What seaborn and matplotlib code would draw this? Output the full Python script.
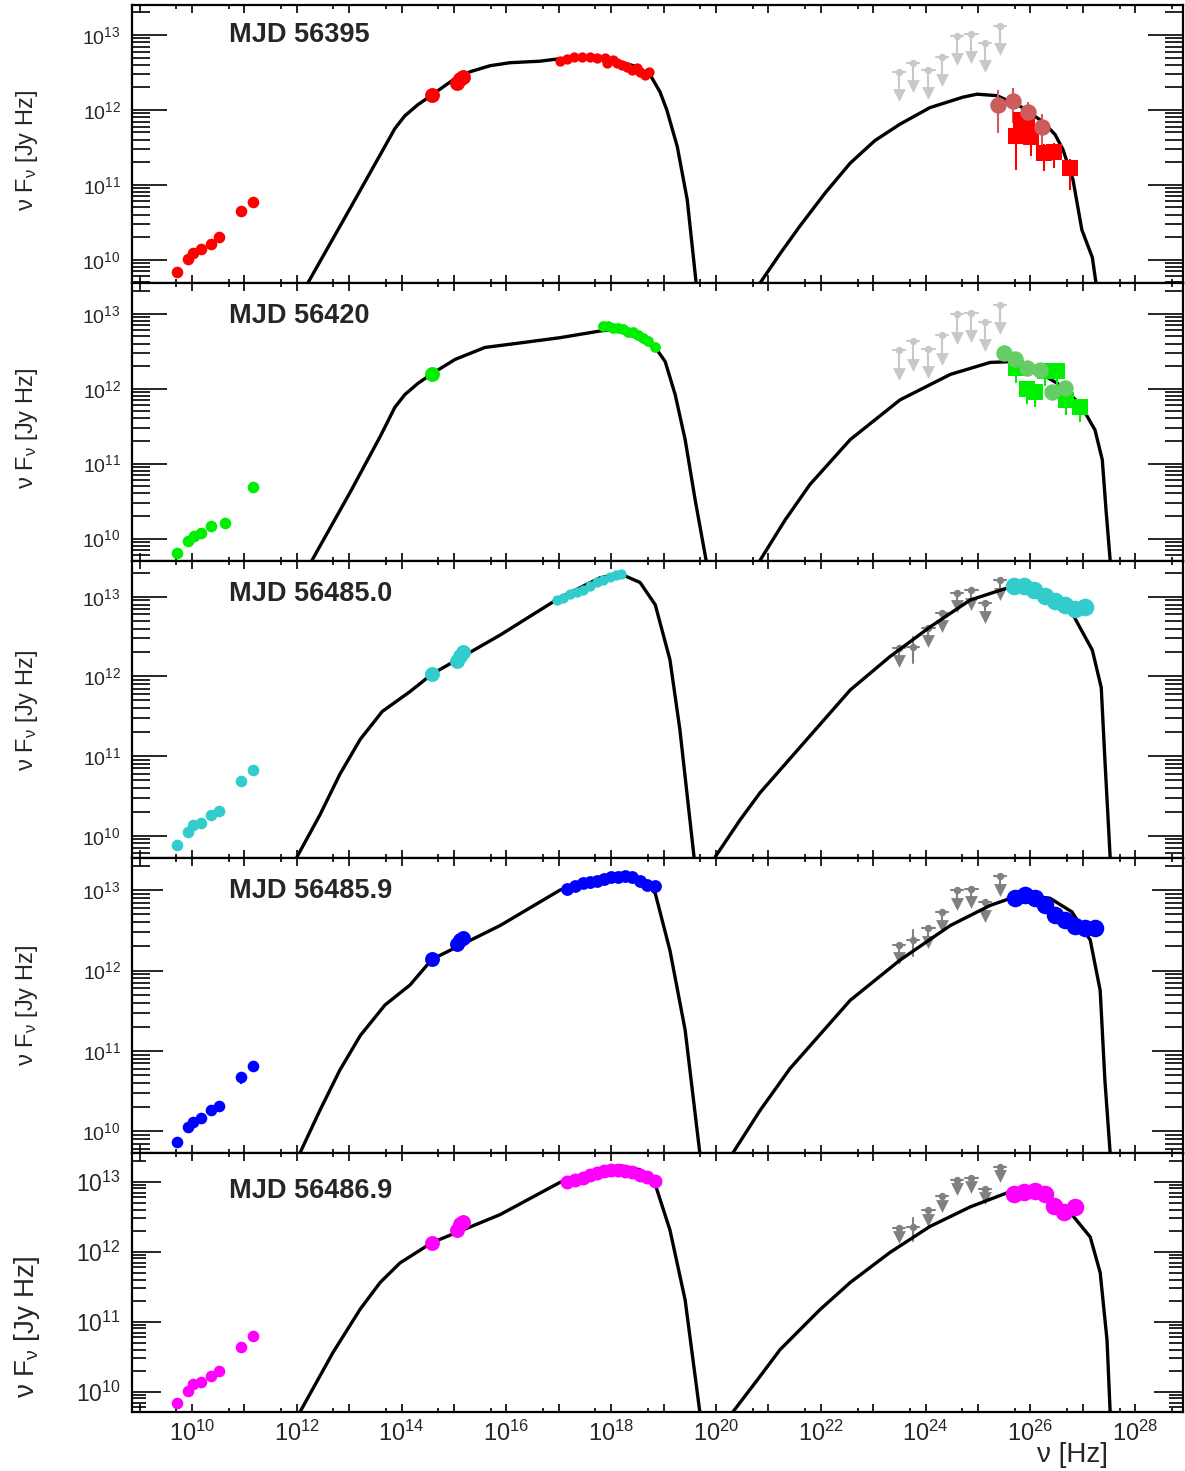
import numpy as np
import matplotlib
matplotlib.use("Agg")
import matplotlib.pyplot as plt
import seaborn as sns
from matplotlib.ticker import FixedLocator, LogLocator, FuncFormatter, NullFormatter

# ---------------- data (log10 values) ----------------
titles = ["MJD 56395", "MJD 56420", "MJD 56485.0", "MJD 56485.9", "MJD 56486.9"]
colors = ["#ff0000", "#00ee00", "#33cccc", "#0000ff", "#ff00ff"]

radio_nu = [9.71, 9.92, 10.02, 10.17, 10.36, 10.52, 10.94, 11.16]
radio_f1 = [9.84, 10.01, 10.09, 10.15, 10.21, 10.31, 10.65, 10.77]
radio_nu2 = [9.71, 9.92, 10.03, 10.18, 10.36, 10.63, 11.16]
radio_f2 = [9.81, 9.97, 10.03, 10.08, 10.17, 10.21, 10.69]
radio_f3 = [9.88, 10.05, 10.13, 10.16, 10.26, 10.31, 10.69, 10.82]
radio_f4 = [9.87, 10.05, 10.12, 10.17, 10.26, 10.31, 10.67, 10.81]
radio_f5 = [9.84, 10.01, 10.11, 10.14, 10.23, 10.30, 10.64, 10.79]

opt_nu = [14.58, 15.06, 15.11, 15.17]
opt_nu2 = [14.58]
opt_f1 = [12.20, 12.36, 12.41, 12.44]
opt_f2 = [12.20]
opt_f3 = [12.03, 12.20, 12.26, 12.31]
opt_f4 = [12.14, 12.33, 12.38, 12.41]
opt_f5 = [12.13, 12.31, 12.39, 12.43]

xr_nu1 = [17.02, 17.16, 17.29, 17.44, 17.60, 17.73, 17.88, 17.92, 18.03, 18.11, 18.21, 18.30, 18.40, 18.49, 18.55, 18.65, 18.72]
xr_f1 = [12.65, 12.68, 12.71, 12.71, 12.71, 12.69, 12.69, 12.63, 12.67, 12.63, 12.60, 12.57, 12.53, 12.56, 12.51, 12.47, 12.51]
xr_nu2 = [17.84, 17.94, 18.03, 18.13, 18.23, 18.32, 18.42, 18.51, 18.61, 18.70, 18.84]
xr_f2 = [12.83, 12.84, 12.81, 12.81, 12.79, 12.76, 12.75, 12.71, 12.68, 12.64, 12.55]
xr_nu3 = [16.97, 17.08, 17.21, 17.35, 17.46, 17.60, 17.73, 17.84, 17.98, 18.09, 18.19]
xr_f3 = [12.96, 12.99, 13.03, 13.06, 13.09, 13.13, 13.18, 13.21, 13.25, 13.28, 13.29]
xr_nu45 = [17.16, 17.31, 17.46, 17.60, 17.73, 17.86, 18.00, 18.13, 18.27, 18.40, 18.55, 18.69, 18.84]
xr_f4 = [13.01, 13.05, 13.09, 13.10, 13.12, 13.14, 13.16, 13.16, 13.17, 13.16, 13.12, 13.07, 13.05]
xr_f5 = [12.99, 13.03, 13.06, 13.10, 13.13, 13.16, 13.17, 13.17, 13.16, 13.14, 13.10, 13.07, 13.01]

ul_nu = [23.49, 23.76, 24.05, 24.31, 24.60, 24.87, 25.13, 25.42]
ul_f12 = [12.51, 12.63, 12.53, 12.71, 12.99, 13.01, 12.89, 13.12]
ul_f3 = [12.36, 12.37, 12.61, 12.80, 13.05, 13.08, 12.92, 13.21]
ul_f4 = [12.32, 12.38, 12.53, 12.73, 13.00, 13.02, 12.85, 13.17]
ul_f5 = [12.34, 12.36, 12.59, 12.79, 13.03, 13.06, 12.90, 13.21]

lat_nu1 = [25.38, 25.67, 25.95, 26.22]
lat_f1 = [12.07, 12.12, 11.97, 11.77]
lat_lo1 = [0.38, 0.30, 0.26, 0.36]
lat_hi1 = [0.20, 0.17, 0.14, 0.18]
vhe_nu1 = [25.73, 25.82, 25.94, 26.01, 26.26, 26.45, 26.76]
vhe_f1 = [11.65, 11.87, 11.83, 11.64, 11.43, 11.44, 11.23]
vhe_lo1 = [0.45, 0.15, 0.12, 0.26, 0.25, 0.22, 0.30]
vhe_hi1 = [0.15, 0.10, 0.08, 0.12, 0.12, 0.12, 0.12]

lat_nu2 = [25.50, 25.71, 25.94, 26.18, 26.41, 26.66]
lat_f2 = [12.48, 12.39, 12.28, 12.25, 11.96, 12.01]
vhe_nu2 = [25.73, 25.94, 26.09, 26.28, 26.51, 26.68, 26.95]
vhe_f2 = [12.28, 11.99, 11.95, 12.23, 12.24, 11.85, 11.75]

vhe_nu3 = [25.69, 25.88, 26.07, 26.28, 26.47, 26.66, 26.85, 27.04]
vhe_f3 = [13.13, 13.13, 13.09, 13.01, 12.95, 12.90, 12.85, 12.87]
vhe_nu4 = [25.71, 25.90, 26.09, 26.28, 26.47, 26.66, 26.85, 27.04, 27.23]
vhe_f4 = [12.90, 12.94, 12.90, 12.81, 12.69, 12.63, 12.56, 12.53, 12.53]
vhe_nu5 = [25.69, 25.88, 26.09, 26.28, 26.45, 26.64, 26.85]
vhe_f5 = [12.83, 12.86, 12.87, 12.83, 12.66, 12.57, 12.64]

# model curves (log nu, log nuFnu)
syn_nu1 = [12.21, 13.02, 13.59, 13.87, 14.06, 14.31, 14.58, 14.98, 15.31, 15.69, 16.07, 16.64, 16.98, 17.54, 17.98, 18.42, 18.74, 18.93, 19.06, 19.26, 19.45, 19.62]
syn_f1 = [9.69, 10.69, 11.40, 11.75, 11.92, 12.07, 12.20, 12.40, 12.51, 12.59, 12.63, 12.65, 12.68, 12.71, 12.68, 12.59, 12.47, 12.24, 12.00, 11.51, 10.80, 9.69]
ic_nu1 = [20.84, 21.22, 21.60, 22.08, 22.56, 23.03, 23.51, 24.08, 24.71, 24.98, 25.36, 25.80, 26.24, 26.47, 26.62, 26.81, 26.98, 27.18, 27.25]
ic_f1 = [9.69, 10.08, 10.45, 10.89, 11.29, 11.59, 11.81, 12.03, 12.17, 12.21, 12.19, 12.05, 11.84, 11.67, 11.47, 11.07, 10.40, 10.03, 9.69]

syn_nu2 = [12.29, 13.02, 13.59, 13.87, 14.06, 14.31, 14.58, 15.02, 15.59, 16.26, 17.02, 17.79, 18.07, 18.45, 18.84, 19.03, 19.22, 19.41, 19.60, 19.81]
syn_f2 = [9.71, 10.62, 11.36, 11.75, 11.92, 12.07, 12.20, 12.39, 12.55, 12.61, 12.68, 12.77, 12.79, 12.69, 12.55, 12.36, 11.92, 11.32, 10.52, 9.71]
ic_nu2 = [20.84, 21.32, 21.79, 22.56, 23.51, 24.47, 25.23, 25.61, 25.99, 26.56, 26.95, 27.23, 27.37, 27.44, 27.52]
ic_f2 = [9.71, 10.25, 10.72, 11.32, 11.85, 12.19, 12.35, 12.36, 12.29, 12.05, 11.79, 11.45, 11.05, 10.39, 9.71]

syn_nu3 = [12.00, 12.44, 12.82, 13.21, 13.63, 14.16, 14.58, 15.88, 17.02, 17.79, 18.17, 18.55, 18.84, 19.12, 19.31, 19.58]
syn_f3 = [9.73, 10.26, 10.77, 11.21, 11.56, 11.81, 12.03, 12.52, 12.99, 13.24, 13.29, 13.18, 12.90, 12.21, 11.33, 9.73]
ic_nu3 = [19.98, 20.46, 20.84, 21.60, 22.56, 23.32, 24.08, 24.85, 25.55, 26.18, 26.79, 27.18, 27.35, 27.42, 27.52]
ic_f3 = [9.73, 10.20, 10.54, 11.11, 11.83, 12.25, 12.62, 12.96, 13.11, 13.06, 12.80, 12.33, 11.86, 10.95, 9.73]

syn_nu4 = [12.06, 12.44, 12.82, 13.21, 13.68, 14.16, 14.58, 15.88, 17.02, 17.79, 18.17, 18.55, 18.84, 19.12, 19.41, 19.69]
syn_f4 = [9.73, 10.26, 10.76, 11.19, 11.57, 11.82, 12.14, 12.56, 13.00, 13.16, 13.21, 13.15, 12.96, 12.25, 11.26, 9.73]
ic_nu4 = [20.32, 20.84, 21.41, 22.56, 23.51, 24.47, 25.23, 25.80, 26.37, 26.79, 27.14, 27.33, 27.42, 27.52]
ic_f4 = [9.73, 10.26, 10.78, 11.63, 12.13, 12.56, 12.81, 12.94, 12.90, 12.73, 12.38, 11.75, 10.63, 9.73]

syn_nu5 = [12.06, 12.69, 13.21, 13.59, 13.97, 14.58, 15.88, 17.02, 17.79, 18.17, 18.55, 18.84, 19.12, 19.41, 19.69]
syn_f5 = [9.71, 10.56, 11.18, 11.56, 11.84, 12.13, 12.53, 12.99, 13.17, 13.23, 13.17, 12.96, 12.31, 11.31, 9.71]
ic_nu5 = [20.32, 20.84, 21.22, 21.98, 22.56, 23.32, 24.08, 24.85, 25.55, 26.18, 26.79, 27.14, 27.33, 27.46, 27.52]
ic_f5 = [9.71, 10.22, 10.60, 11.17, 11.56, 11.99, 12.36, 12.64, 12.84, 12.86, 12.53, 12.21, 11.70, 10.74, 9.71]

# ---------------- styling / layout ----------------
sns.set_theme(style="ticks")
plt.rcParams['font.family'] = ['Liberation Sans', 'DejaVu Sans']
plt.rcParams['mathtext.fontset'] = 'custom'
plt.rcParams['mathtext.rm'] = 'Liberation Sans'
plt.rcParams['mathtext.it'] = 'Liberation Sans:italic'
plt.rcParams['mathtext.bf'] = 'Liberation Sans:bold'

W, H = 1185, 1471
fig = plt.figure(figsize=(W / 100, H / 100), dpi=100)
fig.patch.set_facecolor("white")

tops = [5, 283, 561, 858, 1153]
bots = [283, 561, 858, 1153, 1412]
ylims = [(9.69, 13.40), (9.70, 13.41), (9.72, 13.45), (9.73, 13.40), (9.71, 13.41)]
xlim = (8.855, 28.91)
left_px, right_px = 132, 1183
ylab_centers = [150, 428, 710, 1005, 1327]
title_centers = [35, 316, 594, 891, 1191]
ul_drop = [0.37, 0.37, 0.23, 0.23, 0.19]
ytick_fs = [14, 14, 14, 14, 16.5]
ylab_fs = [17, 17, 17, 17, 20]
ymaj_len = [25, 25, 25, 22, 21]
ymin_len = [13, 13, 13, 13, 10]
xr_size = [55, 60, 55, 85, 100]

panels = [
    dict(radio=(radio_nu, radio_f1), opt=(opt_nu, opt_f1), xr=(xr_nu1, xr_f1), ul=(ul_nu, ul_f12),
         syn=(syn_nu1, syn_f1), ic=(ic_nu1, ic_f1), ulcol="#c8c8c8"),
    dict(radio=(radio_nu2, radio_f2), opt=(opt_nu2, opt_f2), xr=(xr_nu2, xr_f2), ul=(ul_nu, ul_f12),
         syn=(syn_nu2, syn_f2), ic=(ic_nu2, ic_f2), ulcol="#c8c8c8"),
    dict(radio=(radio_nu, radio_f3), opt=(opt_nu, opt_f3), xr=(xr_nu3, xr_f3), ul=(ul_nu, ul_f3),
         syn=(syn_nu3, syn_f3), ic=(ic_nu3, ic_f3), ulcol="#808080", vhe=(vhe_nu3, vhe_f3)),
    dict(radio=(radio_nu, radio_f4), opt=(opt_nu, opt_f4), xr=(xr_nu45, xr_f4), ul=(ul_nu, ul_f4),
         syn=(syn_nu4, syn_f4), ic=(ic_nu4, ic_f4), ulcol="#808080", vhe=(vhe_nu4, vhe_f4)),
    dict(radio=(radio_nu, radio_f5), opt=(opt_nu, opt_f5), xr=(xr_nu45, xr_f5), ul=(ul_nu, ul_f5),
         syn=(syn_nu5, syn_f5), ic=(ic_nu5, ic_f5), ulcol="#808080", vhe=(vhe_nu5, vhe_f5)),
]

def p(v):
    return 10.0 ** np.asarray(v, dtype=float)

def yfmt(v, pos):
    e = int(round(np.log10(v)))
    return r"$\mathregular{10^{%d}}$" % e

def xfmt(v, pos):
    e = int(round(np.log10(v)))
    if e % 2 == 0 and e >= 10:
        return r"$\mathregular{10^{%d}}$" % e
    return ""

for i, pan in enumerate(panels):
    t, b = tops[i], bots[i]
    ax = fig.add_axes([left_px / W, 1 - b / H, (right_px - left_px) / W, (b - t) / H])
    ax.set_xscale("log")
    ax.set_yscale("log")
    c = colors[i]

    # model curves
    for key in ("syn", "ic"):
        xs, ys = pan[key]
        sns.lineplot(x=p(xs), y=p(ys), sort=False, estimator=None, color="black",
                     lw=2.4, ax=ax, zorder=3)

    # upper limits
    ux, uy = pan["ul"]
    uc = pan["ulcol"]
    d = ul_drop[i]
    for k, (xv, yv) in enumerate(zip(ux, uy)):
        ax.plot([p(xv - 0.12), p(xv + 0.12)], [p(yv), p(yv)], color=uc, lw=1.5, zorder=2)
        if i >= 2 and k == 1:
            ax.plot([p(xv), p(xv)], [p(yv - 0.2), p(yv + 0.12)], color=uc, lw=1.5, zorder=2)
        else:
            ax.plot([p(xv), p(xv)], [p(yv), p(yv - d + 0.06)], color=uc, lw=1.5, zorder=2)
    sns.scatterplot(x=p(ux), y=p(uy), color=uc, s=28, linewidth=0, ax=ax, zorder=2)
    arr_x = [xv for k, xv in enumerate(ux) if not (i >= 2 and k == 1)]
    arr_y = [yv - d + 0.06 for k, yv in enumerate(uy) if not (i >= 2 and k == 1)]
    sns.scatterplot(x=p(arr_x), y=p(arr_y), color=uc, marker="v", s=85, linewidth=0, ax=ax, zorder=2)

    # radio
    rx, ry = pan["radio"]
    if i >= 2:
        ax.errorbar(p([rx[6]]), p([ry[6]]), yerr=[[p(ry[6]) - p(ry[6] - 0.08)], [p(ry[6] + 0.06) - p(ry[6])]],
                    fmt="none", ecolor=c, lw=1.5, zorder=4)
    sns.scatterplot(x=p(rx), y=p(ry), color=c, s=70, linewidth=0, ax=ax, zorder=5)
    # optical
    ox, oy = pan["opt"]
    sns.scatterplot(x=p(ox), y=p(oy), color=c, s=115, linewidth=0, ax=ax, zorder=5)
    # X-ray
    xx, xy = pan["xr"]
    sns.scatterplot(x=p(xx), y=p(xy), color=c, s=xr_size[i], linewidth=0, ax=ax, zorder=5)

    if i == 0:
        yl = p(lat_f1)
        ax.errorbar(p(lat_nu1), yl, yerr=[yl - p(np.array(lat_f1) - lat_lo1), p(np.array(lat_f1) + lat_hi1) - yl],
                    fmt="none", ecolor="#cd5c5c", lw=1.5, zorder=4)
        yv = p(vhe_f1)
        ax.errorbar(p(vhe_nu1), yv, yerr=[yv - p(np.array(vhe_f1) - vhe_lo1), p(np.array(vhe_f1) + vhe_hi1) - yv],
                    fmt="none", ecolor="#ff0000", lw=1.5, zorder=4)
        sns.scatterplot(x=p(vhe_nu1), y=p(vhe_f1), color="#ff0000", marker="s", s=140, linewidth=0, ax=ax, zorder=5)
        sns.scatterplot(x=p(lat_nu1), y=p(lat_f1), color="#cd5c5c", s=140, linewidth=0, ax=ax, zorder=6)
    elif i == 1:
        yv = p(vhe_f2)
        ax.errorbar(p(vhe_nu2), yv, yerr=[yv - p(np.array(vhe_f2) - 0.2), p(np.array(vhe_f2) + 0.1) - yv],
                    fmt="none", ecolor="#00ee00", lw=1.5, zorder=4)
        sns.scatterplot(x=p(vhe_nu2), y=p(vhe_f2), color="#00ee00", marker="s", s=130, linewidth=0, ax=ax, zorder=5)
        sns.scatterplot(x=p(lat_nu2), y=p(lat_f2), color="#66cc66", s=140, linewidth=0, ax=ax, zorder=6)
    else:
        vx, vy = pan["vhe"]
        yv = p(vy)
        ax.errorbar(p(vx), yv, yerr=[yv - p(np.array(vy) - 0.06), p(np.array(vy) + 0.04) - yv],
                    fmt="none", ecolor=c, lw=1.5, zorder=4)
        sns.scatterplot(x=p(vx), y=p(vy), color=c, s=160, linewidth=0, ax=ax, zorder=5)

    ax.set_xlim(p(xlim[0]), p(xlim[1]))
    ax.set_ylim(p(ylims[i][0]), p(ylims[i][1]))

    # ticks
    ax.xaxis.set_major_locator(FixedLocator(p(np.arange(9, 29))))
    ax.xaxis.set_minor_locator(FixedLocator(5 * p(np.arange(8, 29))))
    ax.yaxis.set_major_locator(LogLocator(base=10, numticks=30))
    ax.yaxis.set_minor_locator(LogLocator(base=10, subs=np.arange(2, 10), numticks=30))
    ax.yaxis.set_major_formatter(FuncFormatter(yfmt))
    ax.yaxis.set_minor_formatter(NullFormatter())
    ax.xaxis.set_minor_formatter(NullFormatter())
    if i == 4:
        ax.xaxis.set_major_formatter(FuncFormatter(xfmt))
    else:
        ax.xaxis.set_major_formatter(NullFormatter())
    ax.tick_params(axis="x", which="both", direction="in", top=True, bottom=True, color="black", width=1.2)
    ax.tick_params(axis="x", which="major", length=6, labelsize=17, pad=6)
    ax.tick_params(axis="x", which="minor", length=3)
    ax.tick_params(axis="y", which="both", direction="in", left=True, right=True, color="black", width=1.2)
    ax.tick_params(axis="y", which="major", length=ymaj_len[i], labelsize=ytick_fs[i], pad=8)
    ax.tick_params(axis="y", which="minor", length=ymin_len[i])
    for sp in ax.spines.values():
        sp.set_linewidth(1.6)
        sp.set_color("black")
        sp.set_visible(True)
    ax.set_xlabel("")
    ax.set_ylabel("")
    ax.grid(False)
    ax.set_facecolor("white")

    fig.text(27 / W, 1 - ylab_centers[i] / H, "ν F$_{\\mathregular{ν}}$ [Jy Hz]", rotation=90,
             ha="center", va="center", fontsize=ylab_fs[i])
    fig.text(229 / W, 1 - title_centers[i] / H, titles[i], ha="left", va="center",
             fontsize=19.5, fontweight="bold")

fig.text(1108 / W, 1 - 1455 / H, "ν [Hz]", ha="right", va="center", fontsize=20)

fig.savefig("out.png", dpi=100, facecolor="white")
